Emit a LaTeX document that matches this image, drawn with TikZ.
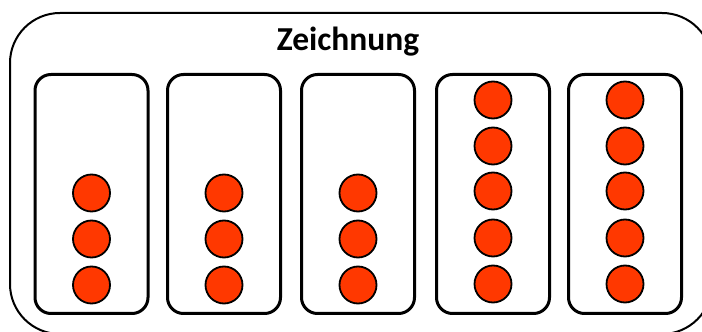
\documentclass[tikz,border=0pt]{standalone}
\usepackage{fontspec}
\setmainfont{Carlito}
\definecolor{dotred}{RGB}{255,56,0}
\tikzset{
  frame/.style={draw=black,line width=2pt,rounded corners=50pt},
  column/.style={draw=black,line width=3pt,rounded corners=16pt,minimum width=113pt,minimum height=239pt,inner sep=0pt},
  dot/.style={circle,draw=black,line width=1.8pt,fill=dotred,minimum size=37pt,inner sep=0pt},
  title/.style={font=\bfseries\fontsize{33.5}{38}\selectfont,inner sep=0pt}
}
\begin{document}
\begin{tikzpicture}[x=1pt,y=1pt]
\useasboundingbox (0,0) rectangle (702,332);
\clip (0,0) rectangle (702,332);
\draw[frame] (10,319) rectangle (712,-2);
\node[title,anchor=base] (t) at (348,281) {Zeichnung};
\foreach \i/\cx in {1/91.5,2/224,3/358}{
  \node[column] (b\i) at (\cx,138) {};
  \foreach \j/\cy in {1/193,2/239,3/285}{
    \node[dot] (c\i\j) at (\cx,332-\cy) {};
  }
}
\foreach \i/\cx in {4/493,5/625}{
  \node[column] (b\i) at (\cx,138) {};
  \foreach \j/\cy in {1/100,2/146,3/191,4/238,5/284}{
    \node[dot] (c\i\j) at (\cx,332-\cy) {};
  }
}
\end{tikzpicture}
\end{document}
